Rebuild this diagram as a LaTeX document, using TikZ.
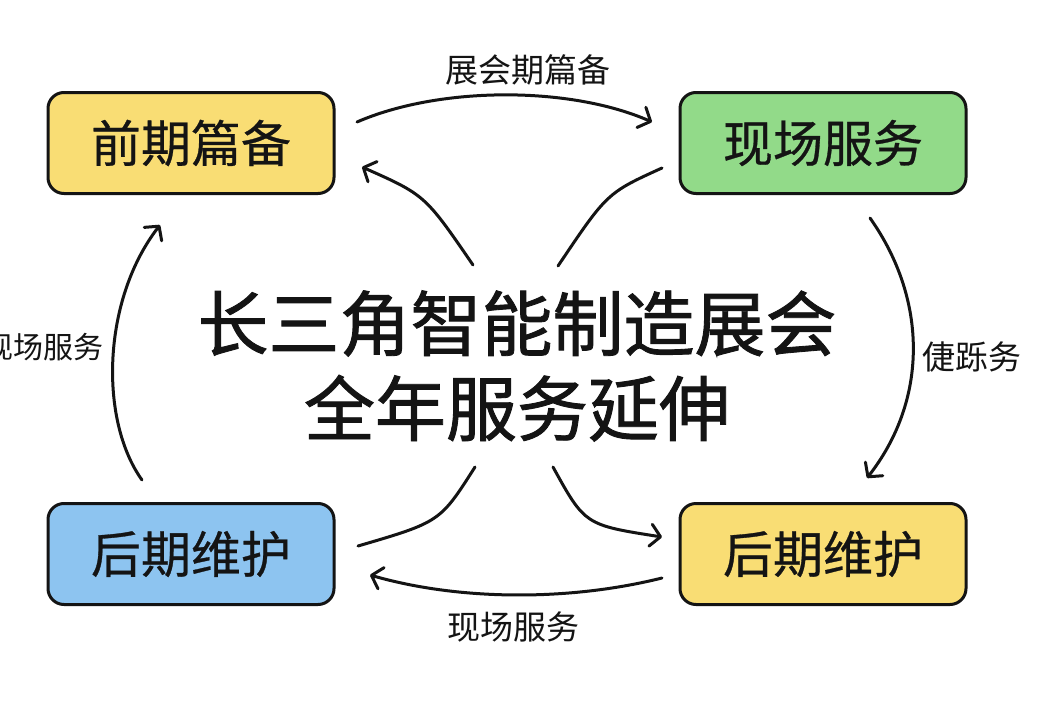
\documentclass[tikz,border=0pt]{standalone}
\usepackage{fontspec}
\setmainfont{Noto Sans CJK SC}
\newfontfamily\titlefont[FakeBold=1.2]{Noto Sans CJK SC}
\newfontfamily\boxfont[FakeBold=0.6]{Noto Sans CJK SC}
\usetikzlibrary{arrows.meta}
\definecolor{boxyellow}{RGB}{249,221,116}
\definecolor{boxgreen}{RGB}{146,218,137}
\definecolor{boxblue}{RGB}{141,196,240}
\definecolor{ink}{RGB}{20,20,20}
\tikzset{
  stagebox/.style={draw=ink, line width=3pt, rounded corners=16pt, minimum width=286pt, minimum height=101pt, inner sep=0pt, font=\boxfont\fontsize{50}{54}\selectfont, text=ink},
  flow/.style={draw=ink, line width=3pt, line cap=round, line join=round},
  flowarrow/.style={flow, -{Straight Barb[length=10pt,width=22pt,line width=3pt,round]}},
  lbl/.style={font=\fontsize{33}{36}\selectfont, text=ink, inner sep=0pt}
}
\begin{document}
\begin{tikzpicture}[x=1pt,y=-1pt]
\useasboundingbox[fill=white] (0,0) rectangle (1045,715);
% boxes
\node[stagebox, fill=boxyellow] (prep) at (191,143) {前期篇备};
\node[stagebox, fill=boxgreen] (onsite) at (823,143) {现场服务};
\node[stagebox, fill=boxblue] (maintL) at (191,554) {后期维护};
\node[stagebox, fill=boxyellow] (maintR) at (823,554) {后期维护};
% title
\node[font=\titlefont\fontsize{71}{85}\selectfont, text=ink, align=center, inner sep=0pt] (title) at (517,366) {长三角智能制造展会\\全年服务延伸};
% connector end points
\coordinate (a1s) at (357,122); \coordinate (a1e) at (652,122);
\coordinate (a8s) at (662,578); \coordinate (a8e) at (370,575);
\coordinate (a4s) at (870,218); \coordinate (a4e) at (867,478);
\coordinate (a5s) at (142,480); \coordinate (a5e) at (160,225);
\coordinate (a2s) at (473,265); \coordinate (a2e) at (362,167);
\coordinate (a3s) at (558,266); \coordinate (a3e) at (662,168);
\coordinate (a6s) at (475,467); \coordinate (a6e) at (358,546);
\coordinate (a7s) at (553,467); \coordinate (a7e) at (662,537);
% connectors
\draw[flowarrow] (a1s) .. controls (440,86) and (570,86) .. (a1e);
\draw[flowarrow] (a8s) .. controls (570,601) and (460,601) .. (a8e);
\draw[flowarrow] (a4s) .. controls (928,300) and (928,400) .. (a4e);
\draw[flowarrow] (a5s) .. controls (99,420) and (102,300) .. (a5e);
\draw[flowarrow] (a2s) .. controls (425,195) .. (a2e);
\draw[flow] (a3s) .. controls (607,193) .. (a3e);
\draw[flow] (a6s) .. controls (440,522) .. (a6e);
\draw[flowarrow] (a7s) .. controls (585,525) .. (a7e);
% labels
\node[lbl] (ltop) at (528,70) {展会期篇备};
\node[lbl] (lbot) at (513,627) {现场服务};
\node[lbl, anchor=east, font=\fontsize{30}{34}\selectfont] (lleft) at (104,347) {现场服务};
\node[lbl, anchor=west] (lright) at (922,357) {倢跞务};
\end{tikzpicture}
\end{document}
